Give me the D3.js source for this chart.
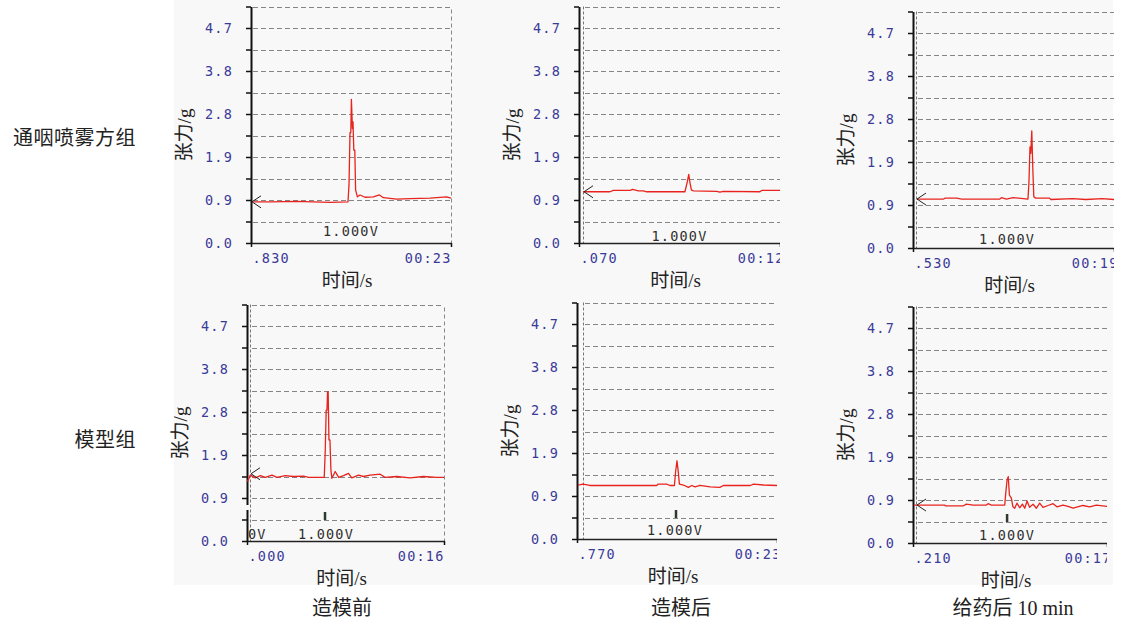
<!DOCTYPE html>
<html>
<head>
<meta charset="utf-8">
<script src="https://cdn.jsdelivr.net/npm/d3@7"></script>
<style>
    body { margin: 0; background: #fff; }
    svg { display: block; }
    .tick text { font-family: "DejaVu Sans Mono", monospace; font-size: 13.5px; fill: #3a3a98; letter-spacing: 1.2px; }
    .volt { font-family: "DejaVu Sans Mono", monospace; font-size: 13.5px; fill: #2e2e2e; letter-spacing: 1.2px; }
    .title { font-family: "Liberation Serif", "Noto Sans CJK SC", serif; font-size: 19px; fill: #222; }
    .outer { font-family: "Liberation Serif", "Noto Sans CJK SC", serif; font-size: 20px; fill: #222; }
</style>
</head>
<body>
<svg id="chart" width="1121" height="624"></svg>
<script>
// labels
const row_labels = ["通咽喷雾方组", "模型组"];
const col_labels = ["造模前", "造模后", "给药后 10 min"];
const y_title = "张力/g";
const x_title = "时间/s";
const volt_label = "1.000V";

// y ticks (every second grid line carries a label)
const y_grid_values = [0, 0.47, 0.94, 1.41, 1.88, 2.35, 2.82, 3.29, 3.76, 4.23, 4.7, 5.17];
const y_tick_labels = ["0.0", "0.9", "1.9", "2.8", "3.8", "4.7"];

// x tick labels per panel (row by row)
const x_start_labels = [".830", ".070", ".530", ".000", ".770", ".210"];
const x_end_labels = ["00:23", "00:12", "00:19", "00:16", "00:23", "00:17"];

// level of the "<" marker at the left of each trace
const arrow_levels = [0.90, 1.12, 1.07, 1.47, null, 0.83];

// traces: [time fraction, tension g]
const trace_spray_before = [
    [0.012, 0.90], [0.10, 0.90], [0.228, 0.91], [0.31, 0.90], [0.395, 0.89], [0.485, 0.90],
    [0.49, 1.27], [0.495, 2.41], [0.499, 2.41], [0.502, 3.14], [0.507, 2.50], [0.510, 2.65],
    [0.514, 2.03], [0.519, 2.03], [0.523, 1.16], [0.532, 1.01], [0.545, 1.05], [0.57, 1.00],
    [0.612, 1.01], [0.642, 1.05], [0.662, 0.99], [0.728, 0.96], [0.795, 0.97], [0.895, 0.98],
    [0.978, 1.01], [1.0, 0.98]
];
const trace_spray_after = [
    [0.02, 1.12], [0.154, 1.12], [0.171, 1.15], [0.254, 1.15], [0.267, 1.17], [0.295, 1.14],
    [0.32, 1.14], [0.337, 1.12], [0.527, 1.12], [0.539, 1.34], [0.546, 1.50], [0.552, 1.32],
    [0.559, 1.16], [0.569, 1.14], [0.685, 1.13], [0.701, 1.11], [0.718, 1.13], [0.90, 1.12],
    [0.909, 1.15], [1.0, 1.15]
];
const trace_spray_dose = [
    [0.02, 1.07], [0.152, 1.07], [0.16, 1.09], [0.217, 1.09], [0.242, 1.07], [0.432, 1.07],
    [0.44, 1.10], [0.465, 1.07], [0.498, 1.10], [0.572, 1.07], [0.577, 1.45], [0.582, 2.21],
    [0.586, 2.07], [0.591, 2.56], [0.596, 1.74], [0.601, 1.12], [0.61, 1.09], [0.679, 1.09],
    [0.686, 1.06], [0.794, 1.08], [0.86, 1.06], [0.942, 1.08], [1.0, 1.06]
];
const trace_model_before = [
    [0.003, 1.30], [0.017, 1.44], [0.042, 1.38], [0.068, 1.43], [0.093, 1.39], [0.127, 1.44],
    [0.152, 1.39], [0.194, 1.43], [0.236, 1.41], [0.287, 1.42], [0.313, 1.39], [0.392, 1.39],
    [0.397, 1.95], [0.402, 2.86], [0.406, 2.86], [0.409, 3.26], [0.412, 3.26], [0.416, 2.21],
    [0.421, 2.21], [0.426, 1.55], [0.431, 1.37], [0.448, 1.52], [0.465, 1.39], [0.49, 1.43],
    [0.515, 1.48], [0.532, 1.38], [0.566, 1.44], [0.591, 1.41], [0.625, 1.44], [0.676, 1.46],
    [0.701, 1.39], [0.76, 1.41], [0.828, 1.38], [0.895, 1.41], [0.963, 1.39], [1.0, 1.39]
];
const trace_model_after = [
    [0.005, 1.18], [0.03, 1.20], [0.064, 1.17], [0.398, 1.17], [0.406, 1.20], [0.448, 1.20],
    [0.465, 1.17], [0.487, 1.17], [0.493, 1.47], [0.50, 1.71], [0.507, 1.44], [0.512, 1.20],
    [0.532, 1.18], [0.557, 1.13], [0.574, 1.17], [0.59, 1.14], [0.615, 1.17], [0.666, 1.14],
    [0.714, 1.13], [0.732, 1.17], [0.866, 1.17], [0.883, 1.20], [0.933, 1.18], [1.0, 1.17]
];
const trace_model_dose = [
    [0.005, 0.83], [0.163, 0.83], [0.168, 0.81], [0.258, 0.81], [0.275, 0.85], [0.309, 0.83],
    [0.378, 0.83], [0.387, 0.86], [0.404, 0.83], [0.473, 0.83], [0.478, 1.09], [0.485, 1.38],
    [0.491, 1.45], [0.497, 1.05], [0.507, 0.98], [0.515, 0.79], [0.524, 0.76], [0.536, 0.87],
    [0.55, 0.77], [0.564, 0.85], [0.576, 0.76], [0.588, 0.92], [0.601, 0.78], [0.619, 0.85],
    [0.636, 0.76], [0.653, 0.87], [0.67, 0.78], [0.696, 0.82], [0.722, 0.86], [0.742, 0.79],
    [0.773, 0.83], [0.799, 0.80], [0.825, 0.76], [0.876, 0.82], [0.911, 0.79], [0.945, 0.83],
    [1.0, 0.80]
];
const traces = [trace_spray_before, trace_spray_after, trace_spray_dose,
                trace_model_before, trace_model_after, trace_model_dose];

// panel layout
const panels = [
    { x0: 251, x1: 451, yb: 243, clip_r: 460, dash_x: null, right_line: true, end_pad: 0, mark_t: null, volt_t: 0.50, volt_off: 7.5 },
    { x0: 579, x1: 780, yb: 243, clip_r: 780, dash_x: 583, right_line: false, end_pad: 4, mark_t: null, volt_t: 0.50, volt_off: 2 },
    { x0: 913, x1: 1114, yb: 248, clip_r: 1114, dash_x: 916, right_line: false, end_pad: 4, mark_t: null, volt_t: 0.468, volt_off: 4.5 },
    { x0: 247, x1: 444, yb: 541, clip_r: 460, dash_x: 250, right_line: true, end_pad: 0, mark_t: 0.396, volt_t: 0.401, volt_off: 2.5, zero_v: true, axis_break: true },
    { x0: 577, x1: 777, yb: 539, clip_r: 777, dash_x: 583, right_line: false, end_pad: 4, mark_t: 0.495, volt_t: 0.49, volt_off: 4.5 },
    { x0: 913, x1: 1107, yb: 543, clip_r: 1107, dash_x: 916, right_line: false, end_pad: 4, mark_t: 0.485, volt_t: 0.485, volt_off: 3.5 }
];

const px_per_g = 215 / 4.7;
const bg = "#f8f8f8";
const svg = d3.select("#chart");

// light gray backdrop of the screenshots
svg.append("rect")
    .attr("x", 174).attr("y", 0)
    .attr("width", 939).attr("height", 585)
    .attr("fill", bg);

const defs = svg.append("defs");

panels.forEach((p, i) => {
    const x = d3.scaleLinear().domain([0, 1]).range([p.x0, p.x1]);
    const y = d3.scaleLinear().domain([0, 5.17]).range([p.yb, p.yb - 5.17 * px_per_g]);

    defs.append("clipPath").attr("id", "clip" + i)
        .append("rect")
        .attr("x", p.x0 - 100).attr("y", 0)
        .attr("width", p.clip_r - p.x0 + 100).attr("height", 624);

    const g = svg.append("g").attr("clip-path", `url(#clip${i})`);

    // dashed grid
    const gx = (p.dash_x || p.x0) + 2;
    g.selectAll("line.grid")
        .data(y_grid_values.slice(1))
        .join("line")
        .attr("class", "grid")
        .attr("x1", gx).attr("x2", p.x1)
        .attr("y1", d => Math.round(y(d)) + 0.5)
        .attr("y2", d => Math.round(y(d)) + 0.5)
        .attr("stroke", "#858585")
        .attr("stroke-width", 1)
        .attr("stroke-dasharray", "5,3");

    // dotted vertical line near the y axis
    if (p.dash_x) {
        g.append("line")
            .attr("x1", p.dash_x + 0.5).attr("x2", p.dash_x + 0.5)
            .attr("y1", y(5.17)).attr("y2", p.yb)
            .attr("stroke", "#777")
            .attr("stroke-dasharray", "3,2");
    }
    if (p.right_line) {
        g.append("line")
            .attr("x1", p.x1 + 0.5).attr("x2", p.x1 + 0.5)
            .attr("y1", y(5.17) + 3).attr("y2", p.yb)
            .attr("stroke", "#888")
            .attr("stroke-dasharray", "4,3");
    }

    // y axis
    const y_axis = g.append("g")
        .attr("transform", `translate(${p.x0},0)`)
        .call(d3.axisLeft(y)
            .tickValues(y_grid_values)
            .tickSize(5)
            .tickSizeOuter(0)
            .tickPadding(13)
            .tickFormat((d, k) => k % 2 === 0 ? y_tick_labels[k / 2] : ""));
    y_axis.select(".domain").attr("stroke", "#111").attr("stroke-width", 2);
    y_axis.selectAll(".tick line").attr("stroke", "#111").attr("stroke-width", 1.5);
    if (p.axis_break) {
        g.append("rect")
            .attr("x", p.x0 - 3).attr("y", p.yb - 36)
            .attr("width", 5).attr("height", 5)
            .attr("fill", bg);
    }

    // x axis
    const x_axis = g.append("g")
        .attr("transform", `translate(0,${p.yb})`)
        .call(d3.axisBottom(x)
            .tickValues([0, 1])
            .tickSize(4)
            .tickSizeOuter(0)
            .tickPadding(6)
            .tickFormat((d, k) => k === 0 ? x_start_labels[i] : x_end_labels[i]));
    x_axis.select(".domain").attr("stroke", "#222").attr("stroke-width", 1.5);
    x_axis.selectAll(".tick line").attr("stroke", "#111").attr("stroke-width", 1.5);
    x_axis.selectAll(".tick text")
        .attr("text-anchor", (d, k) => k === 0 ? "start" : "end")
        .attr("dx", (d, k) => k === 0 ? 1 : p.end_pad);

    // voltage label and trigger mark
    g.append("text")
        .attr("class", "volt")
        .attr("x", x(p.volt_t))
        .attr("y", p.yb - p.volt_off)
        .attr("text-anchor", "middle")
        .text(volt_label);
    if (p.zero_v) {
        g.append("text")
            .attr("class", "volt")
            .attr("x", p.x0 + 1)
            .attr("y", p.yb - p.volt_off)
            .text("0V");
    }
    if (p.mark_t !== null) {
        g.append("line")
            .attr("x1", x(p.mark_t)).attr("x2", x(p.mark_t))
            .attr("y1", p.yb - 29).attr("y2", p.yb - 21)
            .attr("stroke", "#2d3b2d")
            .attr("stroke-width", 2.5);
    }

    // trace
    const line = d3.line().x(d => x(d[0])).y(d => y(d[1]));
    g.append("path")
        .datum(traces[i])
        .attr("d", line)
        .attr("fill", "none")
        .attr("stroke", "#e8231d")
        .attr("stroke-width", 1.3)
        .attr("stroke-linejoin", "round");

    // "<" start marker
    if (arrow_levels[i] !== null) {
        const ay = y(arrow_levels[i]);
        const ax = (p.dash_x || p.x0) + 1;
        g.append("path")
            .attr("d", `M${ax + 9},${ay - 6}L${ax},${ay}L${ax + 9},${ay + 6}`)
            .attr("fill", "none")
            .attr("stroke", "#222")
            .attr("stroke-width", 1);
    }

    // axis titles
    g.append("text")
        .attr("class", "title")
        .attr("transform", `translate(${p.x0 - 60},${p.yb - 108}) rotate(-90)`)
        .attr("text-anchor", "middle")
        .text(y_title);
    g.append("text")
        .attr("class", "title")
        .attr("x", (p.x0 + p.x1) / 2 - 4)
        .attr("y", p.yb + 44)
        .attr("text-anchor", "middle")
        .text(x_title);
});

// row and column captions
const row_y = [145, 447];
svg.selectAll("text.row")
    .data(row_labels)
    .join("text")
    .attr("class", "outer row")
    .attr("x", 136)
    .attr("y", (d, k) => row_y[k])
    .attr("text-anchor", "end")
    .attr("letter-spacing", 0.5)
    .text(d => d);

const col_x = [342, 681, 1013];
svg.selectAll("text.col")
    .data(col_labels)
    .join("text")
    .attr("class", "outer col")
    .attr("x", (d, k) => col_x[k])
    .attr("y", 615)
    .attr("text-anchor", "middle")
    .text(d => d);
</script>
</body>
</html>
